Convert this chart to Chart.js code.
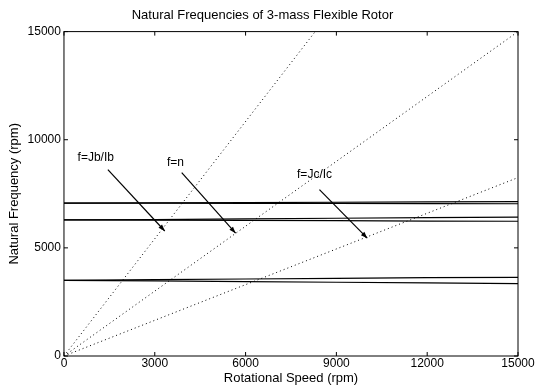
<!DOCTYPE html>
<html lang="en">

<head>
  <meta charset="UTF-8">
  <title>Natural Frequencies of 3-mass Flexible Rotor</title>
  <script src="https://cdn.jsdelivr.net/npm/chart.js"></script>
  <style>
    body {
      margin: 0;
      background: #fff;
    }
    #wrap {
      width: 535px;
      height: 386px;
    }
  </style>
</head>

<body>
  <div id="wrap"><canvas id="rotorChart"></canvas></div>

  <script>
    // rotational speed samples (rpm)
    const speeds = [0, 3000, 6000, 9000, 12000, 15000];

    // natural frequency branches (rpm), backward / forward whirl
    const mode1Backward = [3500, 3470, 3440, 3410, 3380, 3350];
    const mode1Forward = [3500, 3530, 3560, 3590, 3620, 3640];
    const mode2Backward = [6290, 6280, 6270, 6260, 6240, 6230];
    const mode2Forward = [6290, 6310, 6340, 6370, 6400, 6420];
    const mode3Backward = [7070, 7065, 7060, 7055, 7050, 7040];
    const mode3Forward = [7070, 7080, 7095, 7110, 7125, 7140];

    // excitation lines f = Jb/Ib * n, f = n, f = Jc/Ic * n
    const rayLabels = ['f=Jb/Ib', 'f=n', 'f=Jc/Ic'];
    const rayEndSpeed = [8300, 15000, 15000];
    const rayEndFreq = [15000, 15000, 8250];

    // annotation text anchors and arrows (data units)
    const labelX = [450, 3400, 7700];
    const labelY = [9180, 8950, 8390];
    const arrowFromX = [1450, 3890, 8440];
    const arrowFromY = [8620, 8480, 7690];
    const arrowToX = [3330, 5670, 10020];
    const arrowToY = [5780, 5680, 5450];

    const toPoints = (xs, ys) => xs.map((x, i) => ({ x: x, y: ys[i] }));

    const modeSeries = [mode1Backward, mode1Forward, mode2Backward, mode2Forward, mode3Backward, mode3Forward];

    const datasets = modeSeries.map(vals => ({
      data: toPoints(speeds, vals),
      showLine: true,
      borderColor: '#000',
      borderWidth: 1.2,
      pointRadius: 0,
      tension: 0
    }));

    rayLabels.forEach((lbl, i) => {
      datasets.push({
        label: lbl,
        data: [{ x: 0, y: 0 }, { x: rayEndSpeed[i], y: rayEndFreq[i] }],
        showLine: true,
        borderColor: '#000',
        borderWidth: 1,
        borderDash: [1, 3],
        pointRadius: 0
      });
    });

    const fontFamily = '"Liberation Sans", Arial, sans-serif';

    // box around plot + annotations with arrows
    const decorations = {
      id: 'decorations',
      afterDatasetsDraw(chart) {
        const { ctx, chartArea, scales } = chart;
        const xs = scales.x, ys = scales.y;
        ctx.save();
        ctx.strokeStyle = '#000';
        ctx.lineWidth = 1;
        ctx.strokeRect(chartArea.left, chartArea.top, chartArea.right - chartArea.left, chartArea.bottom - chartArea.top);

        // inward tick marks
        ctx.beginPath();
        xs.ticks.forEach(t => {
          const px = xs.getPixelForValue(t.value);
          ctx.moveTo(px, chartArea.bottom); ctx.lineTo(px, chartArea.bottom - 4);
          ctx.moveTo(px, chartArea.top); ctx.lineTo(px, chartArea.top + 4);
        });
        ys.ticks.forEach(t => {
          const py = ys.getPixelForValue(t.value);
          ctx.moveTo(chartArea.left, py); ctx.lineTo(chartArea.left + 4, py);
          ctx.moveTo(chartArea.right, py); ctx.lineTo(chartArea.right - 4, py);
        });
        ctx.stroke();

        ctx.fillStyle = '#000';
        ctx.font = '12px ' + fontFamily;
        ctx.textBaseline = 'middle';
        ctx.textAlign = 'left';
        rayLabels.forEach((lbl, i) => {
          ctx.fillText(lbl, xs.getPixelForValue(labelX[i]), ys.getPixelForValue(labelY[i]));

          const x0 = xs.getPixelForValue(arrowFromX[i]);
          const y0 = ys.getPixelForValue(arrowFromY[i]);
          const x1 = xs.getPixelForValue(arrowToX[i]);
          const y1 = ys.getPixelForValue(arrowToY[i]);
          const ang = Math.atan2(y1 - y0, x1 - x0);
          ctx.lineWidth = 1.2;
          ctx.beginPath();
          ctx.moveTo(x0, y0);
          ctx.lineTo(x1, y1);
          ctx.stroke();
          ctx.beginPath();
          ctx.moveTo(x1, y1);
          ctx.lineTo(x1 - 7 * Math.cos(ang - 0.35), y1 - 7 * Math.sin(ang - 0.35));
          ctx.lineTo(x1 - 7 * Math.cos(ang + 0.35), y1 - 7 * Math.sin(ang + 0.35));
          ctx.closePath();
          ctx.fill();
        });
        ctx.restore();
      }
    };

    const plainTick = value => String(value);

    new Chart(document.getElementById('rotorChart'), {
      type: 'scatter',
      data: { datasets: datasets },
      options: {
        responsive: true,
        maintainAspectRatio: false,
        animation: false,
        layout: {
          padding: { left: 7, right: 17, top: 2, bottom: 0 }
        },
        scales: {
          x: {
            type: 'linear',
            min: 0,
            max: 15000,
            ticks: {
              stepSize: 3000,
              color: '#000',
              font: { family: fontFamily, size: 12 },
              padding: 0,
              maxRotation: 0,
              callback: plainTick
            },
            grid: { display: false, drawTicks: false },
            border: { display: false },
            title: {
              display: true,
              text: 'Rotational Speed (rpm)',
              color: '#000',
              font: { family: fontFamily, size: 13 },
              padding: { top: 0, bottom: 0 }
            }
          },
          y: {
            type: 'linear',
            min: 0,
            max: 15000,
            ticks: {
              stepSize: 5000,
              color: '#000',
              font: { family: fontFamily, size: 12 },
              padding: 3,
              callback: plainTick
            },
            grid: { display: false, drawTicks: false },
            border: { display: false },
            title: {
              display: true,
              text: 'Natural Frequency (rpm)',
              color: '#000',
              font: { family: fontFamily, size: 13 },
              padding: { top: 0, bottom: 2 }
            }
          }
        },
        plugins: {
          legend: { display: false },
          tooltip: { enabled: false },
          title: {
            display: true,
            text: 'Natural Frequencies of 3-mass Flexible Rotor',
            color: '#000',
            font: { family: fontFamily, size: 13, weight: 'normal' },
            padding: { top: 6, bottom: 8 }
          }
        }
      },
      plugins: [decorations]
    });
  </script>
</body>

</html>
